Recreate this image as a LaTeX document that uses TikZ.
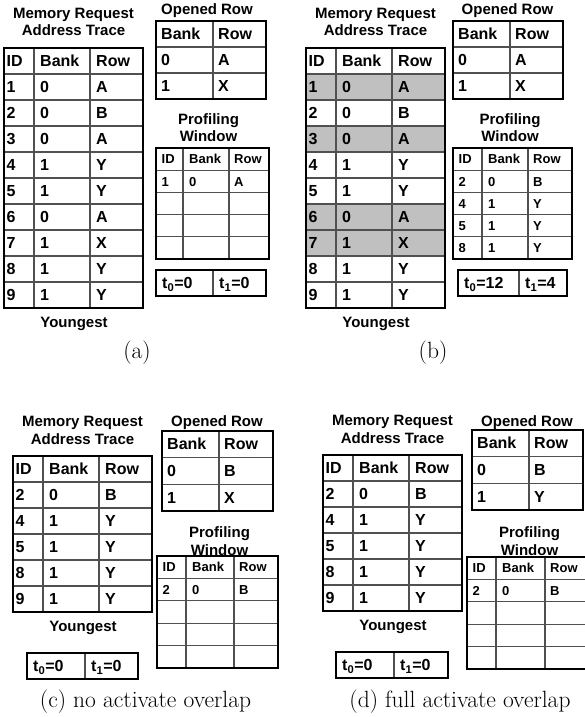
\documentclass[tikz,border=0pt]{standalone}
\usepackage{fontspec}
\newfontfamily\arialfont{Liberation Sans}
\usepackage{xcolor}
\definecolor{hitgray}{HTML}{C0C0C0}
\definecolor{gridgray}{HTML}{505050}

\begin{document}
\begin{tikzpicture}[x=1pt, y=-1pt,
  outer/.style={draw=black, line width=1.7pt},
  inner/.style={draw=gridgray, line width=1.1pt},
  title/.style={font=\arialfont\bfseries\fontsize{15}{17}\selectfont, anchor=base, inner sep=0pt},
  cell/.style={font=\arialfont\bfseries\fontsize{16}{18}\selectfont, anchor=base west, inner sep=0pt},
  tinycell/.style={font=\arialfont\bfseries\fontsize{13}{15}\selectfont, anchor=base west, inner sep=0pt},
  caption/.style={font=\fontsize{23.5}{26}\selectfont, anchor=base, inner sep=0pt}
]
\useasboundingbox (0,0) rectangle (584,717);

% (a) and (b): address trace
\fill[hitgray] (306,74) rectangle (445,100) (306,126) rectangle (445,152) (306,204) rectangle (445,256);
\foreach \p/\xl in {a/4, b/306} {
  \node[title] (\p-mem) at ({\xl+69.5},19) {Memory Request};
  \node[title] (\p-addr) at ({\xl+69.5},36) {Address Trace};
  \foreach \yy in {74,100,...,282}
    \draw[inner] (\xl,\yy) -- ({\xl+139},\yy);
  \draw[inner] ({\xl+30},48) -- ({\xl+30},308) ({\xl+86},48) -- ({\xl+86},308);
  \draw[outer] (\xl,48) rectangle ({\xl+139},308);
  \foreach \fa/\fb/\fc [count=\rk] in {ID/Bank/Row,1/0/A,2/0/B,3/0/A,4/1/Y,5/1/Y,6/0/A,7/1/X,8/1/Y,9/1/Y} {
    \node[cell] (\p-id-\rk) at ({\xl+2.5},{40.5+26*\rk}) {\fa};
    \node[cell] (\p-bank-\rk) at ({\xl+36},{40.5+26*\rk}) {\fb};
    \node[cell] (\p-row-\rk) at ({\xl+92},{40.5+26*\rk}) {\fc};
  }
  \node[title] (\p-young) at ({\xl+70},327) {Youngest};
}

% (a) and (b): opened row
\foreach \p/\xl/\xm in {a/156/207, b/453/507.5} {
  \node[title] (\p-open) at (\xm,15) {Opened Row};
  \draw[inner] (\xl,47) -- ({\xl+110},47) (\xl,73) -- ({\xl+110},73) ({\xl+57},21) -- ({\xl+57},99);
  \draw[outer] (\xl,21) rectangle ({\xl+110},99);
  \foreach \fb/\fc [count=\rk] in {Bank/Row,0/A,1/X} {
    \node[cell] (\p-obank-\rk) at ({\xl+5},{13.5+26*\rk}) {\fb};
    \node[cell] (\p-orow-\rk) at ({\xl+62},{13.5+26*\rk}) {\fc};
  }
}

% (a) and (b): profiling window
\foreach \p/\xl/\xb/\xc/\xr/\xm in {a/156/183/229/269/208.5, b/453/482/528/572/510} {
  \node[title] (\p-prof) at (\xm,124) {Profiling};
  \node[title] (\p-win) at (\xm,141) {Window};
  \foreach \yy in {170.2,192.4,214.6,236.8}
    \draw[inner] (\xl,\yy) -- (\xr,\yy);
  \draw[inner] (\xb,148) -- (\xb,259) (\xc,148) -- (\xc,259);
  \draw[outer] (\xl,148) rectangle (\xr,259);
  \node[tinycell] (\p-pid-1) at ({\xl+5.5},163.8) {ID};
  \node[tinycell] (\p-pbank-1) at ({\xb+6},163.8) {Bank};
  \node[tinycell] (\p-prow-1) at ({\xc+5},163.8) {Row};
}
\node[tinycell] (a-pid-2) at (161.5,186) {1};
\node[tinycell] (a-pbank-2) at (189,186) {0};
\node[tinycell] (a-prow-2) at (234,186) {A};
\foreach \fa/\fb/\fc [count=\rk from 2] in {2/0/B,4/1/Y,5/1/Y,8/1/Y} {
  \node[tinycell] (b-pid-\rk) at (458.5,{141.6+22.2*\rk}) {\fa};
  \node[tinycell] (b-pbank-\rk) at (488,{141.6+22.2*\rk}) {\fb};
  \node[tinycell] (b-prow-\rk) at (533,{141.6+22.2*\rk}) {\fc};
}

% (a) and (b): counters
\foreach \p/\xl/\xb/\xr/\vz/\vo in {a/156/213/266/0/0, b/458/519/567/12/4} {
  \draw[inner] (\xb,270) -- (\xb,296);
  \draw[outer] (\xl,270) rectangle (\xr,296);
  \node[cell] (\p-tzero) at ({\xl+6},288.5) {t\textsubscript{0}=\vz};
  \node[cell] (\p-tone) at ({\xb+6},288.5) {t\textsubscript{1}=\vo};
}
\node[caption] (a-cap) at (137,358) {(a)};
\node[caption] (b-cap) at (433,358) {(b)};

% (c) and (d): address trace
\foreach \p/\xl/\yt in {c/13/456, d/323/455} {
  \node[title] (\p-mem) at ({\xl+69.5},{\yt-29.5}) {Memory Request};
  \node[title] (\p-addr) at ({\xl+69.5},{\yt-12}) {Address Trace};
  \foreach \rk in {1,...,5}
    \draw[inner] (\xl,{\yt+26*\rk}) -- ({\xl+139},{\yt+26*\rk});
  \draw[inner] ({\xl+30},\yt) -- ({\xl+30},{\yt+156}) ({\xl+86},\yt) -- ({\xl+86},{\yt+156});
  \draw[outer] (\xl,\yt) rectangle ({\xl+139},{\yt+156});
  \foreach \fa/\fb/\fc [count=\rk] in {ID/Bank/Row,2/0/B,4/1/Y,5/1/Y,8/1/Y,9/1/Y} {
    \node[cell] (\p-id-\rk) at ({\xl+2.5},{\yt-7.5+26*\rk}) {\fa};
    \node[cell] (\p-bank-\rk) at ({\xl+36},{\yt-7.5+26*\rk}) {\fb};
    \node[cell] (\p-row-\rk) at ({\xl+92},{\yt-7.5+26*\rk}) {\fc};
  }
  \node[title] (\p-young) at ({\xl+70},{\yt+175}) {Youngest};
}

% (c) and (d): opened row
\foreach \p/\xl/\yt/\vo in {c/162/431/X, d/472/430/Y} {
  \node[title] (\p-open) at ({\xl+55},426) {Opened Row};
  \draw[inner] (\xl,{\yt+26.7}) -- ({\xl+111},{\yt+26.7}) (\xl,{\yt+53.4}) -- ({\xl+111},{\yt+53.4})
    ({\xl+57},\yt) -- ({\xl+57},{\yt+80});
  \draw[outer] (\xl,\yt) rectangle ({\xl+111},{\yt+80});
  \foreach \fb/\fc [count=\rk] in {Bank/Row,0/B,1/\vo} {
    \node[cell] (\p-obank-\rk) at ({\xl+5},{\yt-7.85+26.7*\rk}) {\fb};
    \node[cell] (\p-orow-\rk) at ({\xl+62},{\yt-7.85+26.7*\rk}) {\fc};
  }
}

% (c) and (d): profiling window
\foreach \p/\xl/\xb/\xc/\xr/\yt in {c/157/186/234/278/556, d/467/496/545/589/557} {
  \node[title] (\p-prof) at ({\xl+62.5},537) {Profiling};
  \node[title] (\p-win) at ({\xl+62.5},555.5) {Window};
  \foreach \rk in {1,...,4}
    \draw[inner] (\xl,{\yt+22.4*\rk}) -- (\xr,{\yt+22.4*\rk});
  \draw[inner] (\xb,\yt) -- (\xb,{\yt+112}) (\xc,\yt) -- (\xc,{\yt+112});
  \draw[outer] (\xl,\yt) rectangle (\xr,{\yt+112});
  \foreach \fa/\fb/\fc [count=\rk] in {ID/Bank/Row,2/0/B} {
    \node[tinycell] (\p-pid-\rk) at ({\xl+5.5},{\yt-6.5+22.4*\rk}) {\fa};
    \node[tinycell] (\p-pbank-\rk) at ({\xb+6},{\yt-6.5+22.4*\rk}) {\fb};
    \node[tinycell] (\p-prow-\rk) at ({\xc+5},{\yt-6.5+22.4*\rk}) {\fc};
  }
}

% (c) and (d): counters
\foreach \p/\xl/\xb/\xr/\yt in {c/27/85/138/653, d/336/394/448/652} {
  \draw[inner] (\xb,\yt) -- (\xb,{\yt+26});
  \draw[outer] (\xl,\yt) rectangle (\xr,{\yt+26});
  \node[cell] (\p-tzero) at ({\xl+6},{\yt+18.5}) {t\textsubscript{0}=0};
  \node[cell] (\p-tone) at ({\xb+6},{\yt+18.5}) {t\textsubscript{1}=0};
}
\node[caption] (c-cap) at (145.5,707) {(c) no activate overlap};
\node[caption] (d-cap) at (460,707) {(d) full activate overlap};
\end{tikzpicture}
\end{document}
